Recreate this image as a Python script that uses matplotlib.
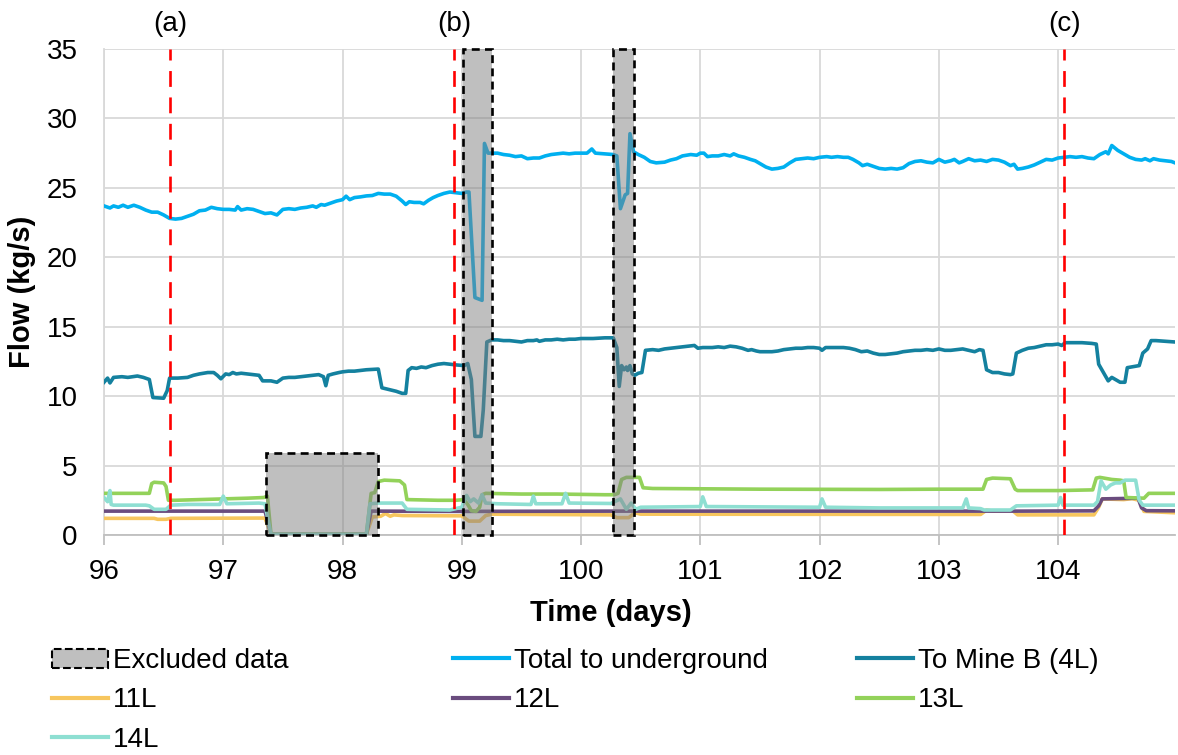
import matplotlib
matplotlib.use("Agg")
import matplotlib.pyplot as plt
from matplotlib.patches import Patch, Rectangle
from matplotlib.lines import Line2D

plt.rcParams['font.family'] = ['Liberation Sans', 'DejaVu Sans']

# ---------------- data ----------------
total_days = [96.00, 96.05, 96.08, 96.12, 96.16, 96.20, 96.25, 96.30, 96.35, 96.40, 96.45, 96.50, 96.55,
              96.60, 96.65, 96.70, 96.75, 96.80, 96.85, 96.90, 96.95, 97.00, 97.05, 97.10, 97.12, 97.15,
              97.20, 97.25, 97.30, 97.35, 97.40, 97.45, 97.50, 97.55, 97.60, 97.65, 97.70, 97.75, 97.78,
              97.82, 97.85, 97.90, 97.95, 98.00, 98.03, 98.06, 98.10, 98.15, 98.20, 98.25, 98.30, 98.35,
              98.40, 98.45, 98.50, 98.53, 98.56, 98.60, 98.65, 98.68, 98.72, 98.76, 98.80, 98.85, 98.90,
              98.95, 99.00, 99.04, 99.06, 99.11, 99.17, 99.19, 99.22, 99.30, 99.35, 99.40, 99.45, 99.50,
              99.55, 99.60, 99.65, 99.70, 99.75, 99.80, 99.85, 99.90, 99.95, 100.00, 100.05, 100.09,
              100.12, 100.20, 100.27, 100.30, 100.33, 100.37, 100.39, 100.41, 100.44, 100.48, 100.53,
              100.58, 100.63, 100.70, 100.75, 100.80, 100.85, 100.92, 100.97, 101.00, 101.03, 101.06,
              101.10, 101.15, 101.20, 101.25, 101.28, 101.32, 101.37, 101.42, 101.46, 101.50, 101.55,
              101.60, 101.65, 101.70, 101.75, 101.80, 101.85, 101.90, 101.95, 102.00, 102.06, 102.10,
              102.15, 102.20, 102.24, 102.28, 102.33, 102.36, 102.40, 102.45, 102.50, 102.55, 102.60,
              102.65, 102.70, 102.75, 102.80, 102.85, 102.90, 102.95, 103.00, 103.05, 103.10, 103.13,
              103.17, 103.20, 103.25, 103.30, 103.35, 103.40, 103.45, 103.50, 103.55, 103.60, 103.63,
              103.66, 103.70, 103.75, 103.80, 103.85, 103.90, 103.95, 104.00, 104.05, 104.10, 104.15,
              104.20, 104.25, 104.30, 104.35, 104.40, 104.42, 104.45, 104.50, 104.55, 104.60, 104.65,
              104.70, 104.73, 104.77, 104.80, 104.85, 104.90, 104.95, 104.98]
total_flow = [23.70, 23.55, 23.70, 23.60, 23.75, 23.60, 23.75, 23.60, 23.40, 23.25, 23.25, 23.05, 22.80,
              22.75, 22.80, 22.95, 23.10, 23.35, 23.40, 23.60, 23.50, 23.45, 23.45, 23.40, 23.65, 23.40,
              23.50, 23.45, 23.30, 23.15, 23.20, 23.05, 23.45, 23.50, 23.45, 23.55, 23.60, 23.70, 23.60,
              23.80, 23.75, 23.90, 24.05, 24.15, 24.40, 24.15, 24.30, 24.35, 24.42, 24.45, 24.60, 24.55,
              24.55, 24.40, 24.05, 23.80, 24.00, 23.95, 23.95, 23.85, 24.10, 24.30, 24.45, 24.60, 24.70,
              24.65, 24.60, 24.70, 24.70, 17.10, 16.90, 28.20, 27.50, 27.50, 27.40, 27.35, 27.25, 27.30,
              27.10, 27.15, 27.15, 27.30, 27.40, 27.45, 27.50, 27.45, 27.50, 27.50, 27.50, 27.80,
              27.50, 27.45, 27.40, 27.30, 23.50, 24.50, 24.60, 28.90, 27.60, 27.40, 27.20,
              26.90, 26.80, 26.85, 27.00, 27.10, 27.30, 27.40, 27.35, 27.50, 27.50, 27.25,
              27.30, 27.30, 27.40, 27.30, 27.45, 27.30, 27.20, 27.05, 26.95, 26.75, 26.50,
              26.35, 26.40, 26.50, 26.80, 27.05, 27.10, 27.15, 27.10, 27.20, 27.25, 27.20,
              27.25, 27.20, 27.20, 27.05, 26.80, 26.60, 26.70, 26.55, 26.40, 26.35, 26.40,
              26.35, 26.45, 26.75, 26.90, 26.95, 26.85, 26.80, 27.05, 26.85, 26.95, 27.05,
              26.80, 26.90, 27.10, 26.95, 27.00, 26.90, 27.05, 27.00, 26.85, 26.60, 26.70,
              26.35, 26.40, 26.50, 26.65, 26.85, 27.05, 27.00, 27.15, 27.20, 27.25, 27.20,
              27.25, 27.15, 27.10, 27.40, 27.60, 27.45, 28.05, 27.70, 27.45, 27.20, 27.05,
              27.00, 27.10, 26.95, 27.10, 27.00, 26.95, 26.90, 26.80]

mineb_days = [96.00, 96.03, 96.05, 96.08, 96.15, 96.20, 96.28, 96.33, 96.38, 96.41, 96.50, 96.53, 96.55,
              96.62, 96.70, 96.75, 96.80, 96.87, 96.92, 96.95, 96.98, 97.02, 97.05, 97.08, 97.11, 97.15,
              97.20, 97.25, 97.30, 97.33, 97.40, 97.45, 97.50, 97.55, 97.60, 97.65, 97.70, 97.75, 97.80,
              97.84, 97.86, 97.88, 97.92, 97.97, 98.00, 98.05, 98.10, 98.15, 98.20, 98.30, 98.33, 98.40,
              98.45, 98.50, 98.53, 98.55, 98.58, 98.62, 98.66, 98.70, 98.75, 98.80, 98.85, 98.90, 98.95,
              99.02, 99.05, 99.08, 99.11, 99.16, 99.18, 99.21, 99.25, 99.30, 99.35, 99.40, 99.45, 99.50,
              99.55, 99.60, 99.63, 99.65, 99.70, 99.75, 99.80, 99.85, 99.90, 99.95, 100.00, 100.10,
              100.20, 100.27, 100.30, 100.32, 100.34, 100.36, 100.38, 100.39, 100.41, 100.43, 100.45,
              100.48, 100.51, 100.54, 100.60, 100.65, 100.70, 100.75, 100.80, 100.85, 100.90, 100.95,
              100.98, 101.02, 101.10, 101.15, 101.20, 101.25, 101.30, 101.35, 101.40, 101.43, 101.47,
              101.50, 101.55, 101.60, 101.65, 101.70, 101.75, 101.80, 101.85, 101.90, 101.95, 102.00,
              102.02, 102.05, 102.10, 102.15, 102.20, 102.25, 102.30, 102.35, 102.40, 102.45, 102.50,
              102.55, 102.60, 102.65, 102.70, 102.75, 102.80, 102.85, 102.90, 102.95, 103.00, 103.05,
              103.10, 103.15, 103.20, 103.25, 103.30, 103.34, 103.37, 103.40, 103.45, 103.50, 103.55,
              103.60, 103.62, 103.65, 103.70, 103.75, 103.80, 103.85, 103.90, 103.95, 104.00, 104.03,
              104.06, 104.10, 104.20, 104.28, 104.32, 104.34, 104.38, 104.42, 104.45, 104.48, 104.52,
              104.56, 104.58, 104.65, 104.68, 104.71, 104.75, 104.78, 104.82, 104.90, 104.98]
mineb_flow = [11.00, 11.30, 10.95, 11.35, 11.40, 11.35, 11.45, 11.35, 11.20, 9.90, 9.85, 10.40, 11.30,
              11.30, 11.35, 11.50, 11.60, 11.70, 11.70, 11.50, 11.25, 11.60, 11.55, 11.70, 11.60, 11.65,
              11.60, 11.55, 11.50, 11.10, 11.10, 11.00, 11.30, 11.35, 11.35, 11.40, 11.45, 11.50, 11.55,
              11.40, 10.75, 11.50, 11.60, 11.70, 11.75, 11.80, 11.80, 11.85, 11.90, 11.95, 10.60, 10.45,
              10.35, 10.20, 10.20, 11.85, 12.05, 12.00, 12.10, 12.05, 12.20, 12.30, 12.35, 12.30, 12.25,
              12.20, 12.35, 11.20, 7.10, 7.10, 9.00, 13.90, 14.05, 14.05, 14.00, 14.00, 13.95, 13.90,
              14.00, 14.00, 14.05, 13.95, 14.05, 14.05, 14.10, 14.05, 14.10, 14.10, 14.15, 14.15,
              14.20, 14.20, 13.50, 10.70, 12.20, 11.90, 12.10, 11.85, 12.20, 11.60, 11.50,
              11.65, 11.70, 13.30, 13.35, 13.30, 13.40, 13.45, 13.50, 13.55, 13.60, 13.65,
              13.45, 13.50, 13.50, 13.55, 13.50, 13.60, 13.55, 13.45, 13.30, 13.35, 13.25,
              13.20, 13.20, 13.20, 13.25, 13.35, 13.40, 13.45, 13.45, 13.50, 13.50, 13.45,
              13.30, 13.50, 13.50, 13.50, 13.50, 13.45, 13.35, 13.20, 13.25, 13.10, 13.00,
              13.00, 13.05, 13.10, 13.20, 13.25, 13.30, 13.30, 13.35, 13.30, 13.40, 13.30,
              13.30, 13.35, 13.40, 13.30, 13.20, 13.35, 13.30, 11.90, 11.70, 11.70, 11.60,
              11.55, 11.60, 13.10, 13.30, 13.45, 13.50, 13.60, 13.70, 13.70, 13.75, 13.65,
              13.85, 13.85, 13.85, 13.80, 13.75, 12.30, 11.70, 11.10, 11.35, 11.20, 11.00,
              11.00, 12.05, 12.15, 12.20, 13.10, 13.40, 14.00, 14.00, 13.95, 13.90]

l11_days = [96.00, 96.42, 96.45, 96.52, 96.56, 97.35, 97.40, 98.20, 98.25, 98.32, 98.36, 98.40, 98.43,
            98.50, 99.00, 99.06, 99.15, 99.20, 99.25, 100.25, 100.30, 100.40, 100.45, 100.50, 103.35,
            103.40, 103.45, 103.62, 103.66, 104.30, 104.34, 104.37, 104.55, 104.62, 104.68, 104.72, 104.98]
l11_flow = [1.20, 1.20, 1.13, 1.13, 1.20, 1.22, 0.05, 0.05, 1.30, 1.35, 1.55, 1.35, 1.45,
            1.40, 1.38, 1.00, 1.00, 1.40, 1.50, 1.45, 1.25, 1.25, 1.60, 1.50, 1.48,
            1.80, 1.72, 1.75, 1.45, 1.45, 2.00, 2.60, 2.55, 2.62, 2.50, 1.70, 1.60]

l12_days = [96.00, 97.35, 97.40, 98.20, 98.24, 99.00, 100.30, 100.50, 103.70, 104.30, 104.34, 104.37,
            104.67, 104.70, 104.74, 104.98]
l12_flow = [1.72, 1.72, 0.05, 0.05, 1.72, 1.70, 1.72, 1.72, 1.72, 1.74, 2.10, 2.60,
            2.65, 1.95, 1.75, 1.74]

l13_days = [96.00, 96.38, 96.40, 96.42, 96.50, 96.52, 96.54, 96.60, 96.80, 97.00, 97.20, 97.34, 97.37,
            97.40, 98.20, 98.24, 98.27, 98.30, 98.35, 98.48, 98.52, 98.54, 98.80, 98.95, 99.02, 99.05,
            99.08, 99.12, 99.15, 99.17, 99.20, 99.50, 99.80, 100.20, 100.28, 100.31, 100.34, 100.38,
            100.49, 100.52, 100.60, 101.50, 102.50, 103.00, 103.37, 103.40, 103.45, 103.60, 103.64,
            103.66, 104.00, 104.29, 104.32, 104.35, 104.45, 104.52, 104.55, 104.57, 104.72, 104.76, 104.98]
l13_flow = [3.00, 3.00, 3.70, 3.80, 3.75, 3.50, 2.50, 2.50, 2.55, 2.60, 2.65, 2.70, 2.80,
            0.05, 0.05, 3.00, 3.05, 3.85, 3.95, 3.90, 3.60, 2.55, 2.50, 2.50, 2.55, 2.20,
            1.75, 1.70, 2.00, 2.90, 3.00, 2.95, 2.95, 2.90, 2.90, 3.00, 4.00, 4.15,
            4.15, 3.40, 3.35, 3.30, 3.28, 3.30, 3.30, 4.00, 4.10, 4.05, 3.30,
            3.20, 3.20, 3.25, 4.10, 4.15, 4.00, 3.95, 3.90, 2.70, 2.65, 3.00, 3.00]

l14_days = [96.00, 96.03, 96.05, 96.06, 96.08, 96.35, 96.38, 96.42, 96.52, 96.56, 96.70, 96.97, 97.00,
            97.03, 97.30, 97.35, 97.40, 98.20, 98.23, 98.30, 98.50, 98.54, 98.90, 99.00, 99.04, 99.07,
            99.10, 99.14, 99.17, 99.20, 99.30, 99.58, 99.60, 99.62, 99.84, 99.87, 99.90, 100.25,
            100.33, 100.38, 100.42, 100.46, 100.50, 101.00, 101.02, 101.05, 102.00, 102.02, 102.05,
            102.50, 103.20, 103.23, 103.25, 103.35, 103.38, 103.60, 103.65, 104.00, 104.02, 104.04,
            104.30, 104.33, 104.36, 104.40, 104.44, 104.48, 104.52, 104.56, 104.65, 104.68, 104.71, 104.98]
l14_flow = [2.70, 2.40, 3.20, 2.20, 2.15, 2.15, 2.10, 1.85, 1.85, 2.15, 2.20, 2.20, 2.80,
            2.25, 2.30, 2.25, 0.05, 0.05, 2.25, 2.30, 2.30, 1.85, 1.80, 2.00, 2.85, 2.40,
            2.60, 2.30, 2.90, 2.30, 2.25, 2.20, 2.80, 2.25, 2.25, 3.00, 2.30, 2.27,
            2.60, 1.85, 2.30, 1.85, 2.00, 2.05, 2.75, 2.05, 2.00, 2.60, 2.00,
            1.95, 1.95, 2.60, 1.95, 1.90, 1.80, 1.80, 2.10, 2.15, 2.70, 2.15,
            2.15, 2.40, 3.90, 3.30, 3.60, 3.75, 3.75, 3.95, 3.95, 2.50, 2.15, 2.15]

# excluded periods: (start day, end day, top flow)
excl_start = [97.355, 99.01, 100.27]
excl_end = [98.30, 99.25, 100.445]
excl_top = [5.88, 35.0, 35.0]

event_days = [96.555, 98.935, 104.05]
event_labels = ['(a)', '(b)', '(c)']

x_ticks = [96, 97, 98, 99, 100, 101, 102, 103, 104]
y_ticks = [0, 5, 10, 15, 20, 25, 30, 35]

# ---------------- styling ----------------
C_TOTAL = '#00B0F0'
C_MINEB = '#14819F'
C_11 = '#F7C65E'
C_12 = '#6A4C7E'
C_13 = '#93D25A'
C_14 = '#8EDFD2'
GRID = '#D9D9D9'
FS = 20

fig = plt.figure(figsize=(11.78, 7.55), dpi=100)
ax = fig.add_axes([104 / 1178, 1 - 535 / 755, (1175 - 104) / 1178, (535 - 49) / 755])

lw = 2.6
ax.plot(total_days, total_flow, color=C_TOTAL, lw=lw, zorder=3, solid_joinstyle='round')
ax.plot(mineb_days, mineb_flow, color=C_MINEB, lw=lw, zorder=3, solid_joinstyle='round')
ax.plot(l11_days, l11_flow, color=C_11, lw=lw, zorder=3, solid_joinstyle='round')
ax.plot(l12_days, l12_flow, color=C_12, lw=lw, zorder=3, solid_joinstyle='round')
ax.plot(l13_days, l13_flow, color=C_13, lw=lw, zorder=3, solid_joinstyle='round')
ax.plot(l14_days, l14_flow, color=C_14, lw=lw, zorder=3, solid_joinstyle='round')

for s, e, t in zip(excl_start, excl_end, excl_top):
    ax.add_patch(Rectangle((s, 0), e - s, t, facecolor='#808080', alpha=0.5,
                           edgecolor='none', zorder=4))
    ax.add_patch(Rectangle((s, 0), e - s, t, facecolor='none', edgecolor='black',
                           lw=1.9, linestyle=(0, (3, 2)), zorder=5, clip_on=False))

for d, lab in zip(event_days, event_labels):
    ax.axvline(d, color='#FF0000', lw=1.9, linestyle=(0, (6, 4)), zorder=6)
    ax.text(d, 35.9, lab, ha='center', va='bottom', fontsize=FS, color='black')

ax.set_xlim(96, 104.98)
ax.set_ylim(0, 35)
ax.set_xticks(x_ticks)
ax.set_yticks(y_ticks)
ax.tick_params(axis='both', labelsize=FS, colors='black')
ax.tick_params(axis='x', length=7, width=1.3, color='#BFBFBF', pad=10)
ax.tick_params(axis='y', length=0, pad=19)
ax.grid(True, color=GRID, lw=1.3, zorder=0)
ax.set_axisbelow(True)
for sp in ['top', 'right']:
    ax.spines[sp].set_visible(False)
ax.spines['left'].set_color(GRID)
ax.spines['left'].set_linewidth(1.3)
ax.spines['bottom'].set_color('#BFBFBF')
ax.spines['bottom'].set_linewidth(1.3)

ax.set_xlabel('Time (days)', fontsize=21, fontweight='bold')
ax.set_ylabel('Flow (kg/s)', fontsize=21, fontweight='bold')
ax.xaxis.set_label_coords((611 - 104) / (1175 - 104), -(613 - 535) / (535 - 49))
ax.yaxis.set_label_coords(-(104 - 22) / (1175 - 104), 0.5)
ax.xaxis.label.set_va('center')
ax.yaxis.label.set_va('center')

# ---------------- legend (three columns) ----------------
h_excl = Patch(facecolor='#BFBFBF', edgecolor='black', linestyle='--', lw=1.5)
def L(c):
    return Line2D([], [], color=c, lw=3)

cols = [
    ([h_excl, L(C_11), L(C_14)], ['Excluded data', '11L', '14L'], 52),
    ([L(C_TOTAL), L(C_12)], ['Total to underground', '12L'], 453),
    ([L(C_MINEB), L(C_13)], ['To Mine B (4L)', '13L'], 857),
]
for hs, ls, xpx in cols:
    fig.legend(hs, ls, loc='upper left', bbox_to_anchor=(xpx / 1178, 1 - 648 / 755),
               frameon=False, fontsize=FS, handlelength=2.0, handletextpad=0.2,
               borderpad=0, borderaxespad=0, labelspacing=0.48, handleheight=0.65)

fig.savefig('out.png', dpi=100)
